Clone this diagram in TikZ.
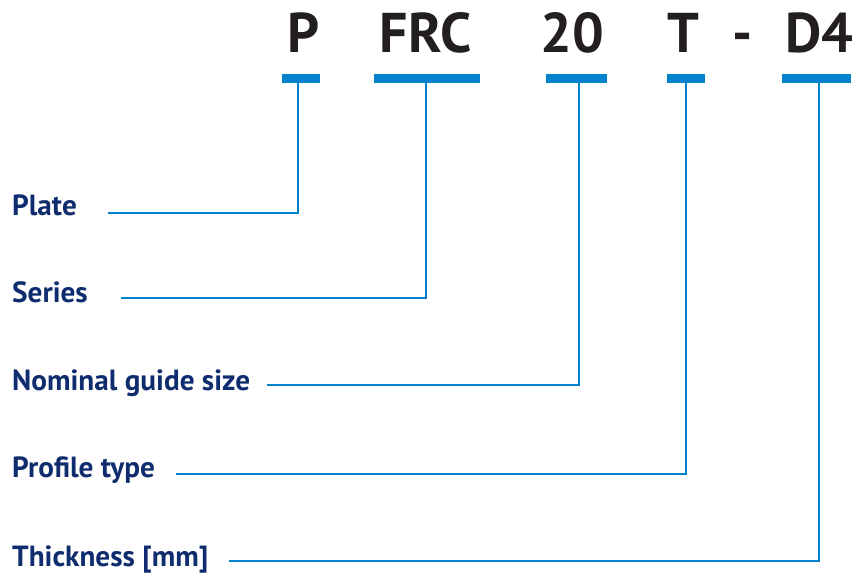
\documentclass[tikz,border=0pt]{standalone}
\usepackage{fontspec}
\setmainfont{PT Sans}
\usepackage{xcolor}
\usetikzlibrary{positioning,calc}
\definecolor{codeblue}{HTML}{0083CA}
\definecolor{labelnavy}{HTML}{0F2D6E}
\definecolor{codeblack}{HTML}{231F20}

\tikzset{
  code/.style = {anchor=base, inner sep=0pt, text=codeblack, font=\fontsize{56}{60}\selectfont\bfseries},
  bar/.style = {fill=codeblue, inner sep=0pt, minimum height=9pt, anchor=north},
  lbl/.style = {anchor=base west, inner sep=0pt, text=labelnavy, font=\fontsize{29.2}{32}\selectfont\bfseries},
  link/.style = {draw=codeblue, line width=2pt}
}

\begin{document}
\begin{tikzpicture}[x = 1pt, y = -1pt]
\useasboundingbox (0,0) rectangle (859,574);
% code letters
\node[code] (p) at (304, 52) {P};
\node[code] (frc) at (425.5, 52) {FRC};
\node[code] (twenty) at (572, 52) {20};
\node[code] (t) at (683.5, 52) {T};
\node[code] (dash) at (742.5, 52) {-};
\node[code] (dfour) at (819.5, 52) {D4};
% bars
\node[bar, minimum width=38pt] (barp) at (301, 74) {};
\node[bar, minimum width=106pt] (barfrc) at (427, 74) {};
\node[bar, minimum width=61pt] (bartwenty) at (576.5, 74) {};
\node[bar, minimum width=38pt] (bart) at (686, 74) {};
\node[bar, minimum width=69pt] (bardfour) at (816.5, 74) {};
% labels
\node[lbl] (plate) at (12, 215) {Plate};
\node[lbl] (series) at (12, 302) {Series};
\node[lbl] (size) at (12, 390) {Nominal guide size};
\node[lbl] (profile) at (12, 477) {Profile type};
\node[lbl] (thick) at (12, 566) {Thickness [mm]};
% line ends
\coordinate (endplate) at (108, 213);
\coordinate (endseries) at (121, 298);
\coordinate (endsize) at (267, 385);
\coordinate (endprofile) at (176, 474);
\coordinate (endthick) at (229, 561);
\draw[link] (barp.south -| 298,0) |- (endplate);
\draw[link] (barfrc.south -| 426,0) |- (endseries);
\draw[link] (bartwenty.south -| 579,0) |- (endsize);
\draw[link] (bart.south -| 686,0) |- (endprofile);
\draw[link] (bardfour.south -| 819,0) |- (endthick);
\end{tikzpicture}
\end{document}
